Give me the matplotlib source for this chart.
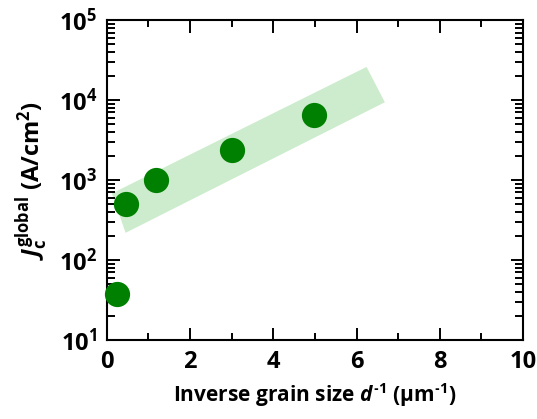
import matplotlib
matplotlib.use('Agg')
import matplotlib.pyplot as plt
from matplotlib.ticker import MultipleLocator, LogLocator, NullFormatter

plt.rcParams['font.family'] = ['Open Sans', 'DejaVu Sans']
plt.rcParams['font.weight'] = 'bold'
plt.rcParams['axes.labelweight'] = 'bold'
plt.rcParams['axes.unicode_minus'] = False
plt.rcParams['mathtext.fontset'] = 'custom'
plt.rcParams['mathtext.rm'] = 'Open Sans:bold'
plt.rcParams['mathtext.bf'] = 'Open Sans:bold'
plt.rcParams['mathtext.it'] = 'Open Sans:italic:bold'
plt.rcParams['mathtext.default'] = 'bf'

# inverse grain size (1/um) and global Jc (A/cm2)
inv_d = [0.25, 0.46, 1.18, 3.01, 4.98]
jc_global = [37.6, 500, 1000, 2350, 6450]

# corners of the shaded trend band
band_x = [0.12, 6.24, 6.68, 0.45]
band_y = [680, 26000, 9400, 219]

fig = plt.figure(figsize=(5.37, 4.19), dpi=100)
ax = fig.add_axes([0.199, 0.1885, 0.775, 0.7635])

ax.fill(band_x, band_y, color='#cdeccd', lw=0, zorder=1)
ax.scatter(inv_d, jc_global, s=330, color='#008000', lw=0, zorder=3, clip_on=False)

ax.set_yscale('log')
ax.set_xlim(0, 10)
ax.set_ylim(10, 1e5)
ax.xaxis.set_major_locator(MultipleLocator(2))
ax.xaxis.set_minor_locator(MultipleLocator(1))
ax.yaxis.set_major_locator(LogLocator(base=10))
ax.yaxis.set_minor_locator(LogLocator(base=10, subs=range(2, 10)))
ax.yaxis.set_minor_formatter(NullFormatter())

ax.tick_params(which='both', direction='in', top=True, right=True, width=1.4)
ax.tick_params(which='major', length=9, labelsize=17, pad=7)
ax.tick_params(which='minor', length=5)
ax.tick_params(axis='y', which='minor', length=6)
for s in ax.spines.values():
    s.set_linewidth(1.5)
for lab in ax.get_xticklabels() + ax.get_yticklabels():
    lab.set_fontweight('bold')

ax.set_xlabel('Inverse grain size $\\mathit{d}^{\u2010\\mathrm{1}}$ ($\\mathrm{\\mu m}^{\u2010\\mathrm{1}}$)',
              fontsize=15, fontweight='bold', labelpad=5)
ax.set_ylabel(r'$\mathit{J}_\mathrm{c}^\mathrm{global}$ (A/cm$^\mathrm{2}$)',
              fontsize=17, fontweight='bold', labelpad=6)

fig.savefig('out.png', dpi=100)
